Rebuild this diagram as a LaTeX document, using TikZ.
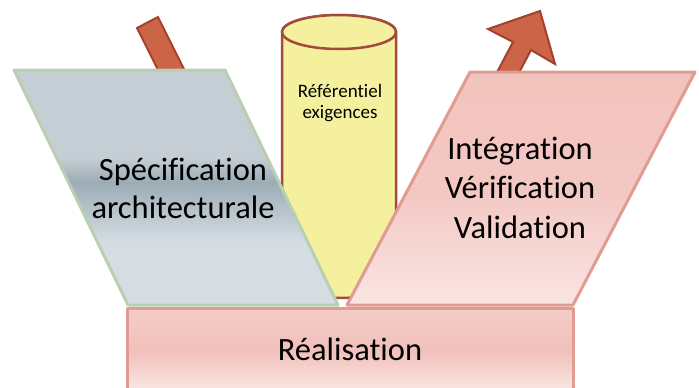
\documentclass[tikz,border=0pt]{standalone}
\usepackage{fontspec}
\setmainfont{Carlito}[Ligatures={NoCommon}]
\definecolor{arrfill}{HTML}{CC6448}
\definecolor{arrdraw}{HTML}{A3412D}
\definecolor{cylfill}{HTML}{F4F09E}
\definecolor{cyldraw}{HTML}{A24A3B}
\definecolor{specT}{HTML}{C4CED4}
\definecolor{specM}{HTML}{9CACB5}
\definecolor{specB}{HTML}{D5DDE3}
\definecolor{specD}{HTML}{B8CFB3}
\definecolor{pinkT}{HTML}{F2C3BD}
\definecolor{pinkM}{HTML}{F3C8C3}
\definecolor{pinkB}{HTML}{FAE6E4}
\definecolor{pinkD}{HTML}{E09C92}
\definecolor{realT}{HTML}{F5CDC9}
\definecolor{realM}{HTML}{F1C0BA}
\definecolor{realB}{HTML}{FAE6E4}
\tikzset{
  arrowshape/.style={fill=arrfill, draw=arrdraw, line width=2pt, line join=miter},
  cylshape/.style={fill=cylfill, draw=cyldraw, line width=2.5pt},
  borderspec/.style={draw=specD, line width=3pt, line join=round},
  borderpink/.style={draw=pinkD, line width=3pt, line join=round},
  bigtext/.style={font=\fontsize{32.5}{39}\selectfont, align=center, inner sep=0pt},
  smalltext/.style={font=\fontsize{19}{22}\selectfont, align=center, inner sep=0pt}
}
% strips: #1 colour A, #2 colour B, #3 y from, #4 y to, #5 x from, #6 x to
\newcommand{\gradstrips}[6]{%
  \foreach \yy in {#3,...,#4}{%
    \pgfmathsetmacro\pp{100*(\yy-#3)/(#4-#3)}%
    \fill[#2!\pp!#1] (#5,\yy-0.2) rectangle (#6,\yy+1.2);
  }%
}
\begin{document}
\begin{tikzpicture}[x=1pt,y=-1pt]
\useasboundingbox (0,0) rectangle (699,388);
% arrows
\draw[arrowshape] (137,28) -- (158,17) -- (194,89) -- (173,100) -- cycle;
\draw[arrowshape] (540,11) -- (555,64) -- (531,50) -- (503,103) -- (485,95) -- (513,42) -- (488,29) -- cycle;
% cylinder
\draw[cylshape] (282,32) -- (282,281) arc[start angle=180, end angle=0, x radius=57, y radius=17] -- (396,32) arc[start angle=0, end angle=-180, x radius=57, y radius=17] -- cycle;
\draw[cylshape] (339,32) ellipse[x radius=57, y radius=17];
\node[smalltext, anchor=base] (ref1) at (340,97) {Référentiel};
\node[smalltext, anchor=base] (ref2) at (340,118) {exigences};
% left parallelogram
\begin{scope}
  \clip (14,70) -- (225,70) -- (338,305) -- (128,305) -- cycle;
  \fill[specT] (0,60) rectangle (360,158);
  \gradstrips{specT}{specM}{158}{182}{0}{360}
  \gradstrips{specM}{specB}{182}{242}{0}{360}
  \fill[specB] (0,242) rectangle (360,315);
\end{scope}
\draw[borderspec] (14,70) -- (225,70) -- (338,305) -- (128,305) -- cycle;
\node[bigtext, anchor=base] (spec1) at (183,180) {Spécification};
\node[bigtext, anchor=base] (spec2) at (183,218) {architecturale};
% right parallelogram
\begin{scope}
  \clip (470,72) -- (695,72) -- (573,305) -- (347,305) -- cycle;
  \gradstrips{pinkT}{pinkM}{66}{190}{340}{699}
  \gradstrips{pinkM}{pinkB}{190}{310}{340}{699}
\end{scope}
\draw[borderpink] (470,72) -- (695,72) -- (573,305) -- (347,305) -- cycle;
\node[bigtext, anchor=base] (ivv1) at (520,159) {Intégration};
\node[bigtext, anchor=base] (ivv2) at (520,198) {Vérification};
\node[bigtext, anchor=base] (ivv3) at (520,238) {Validation};
% bottom rectangle
\begin{scope}
  \clip (127,308) rectangle (573,395);
  \gradstrips{realT}{realM}{306}{350}{120}{580}
  \gradstrips{realM}{realB}{350}{390}{120}{580}
\end{scope}
\draw[borderpink] (127,308) rectangle (573,395);
\node[bigtext, anchor=base] (real) at (350,360) {Réalisation};
\end{tikzpicture}
\end{document}
